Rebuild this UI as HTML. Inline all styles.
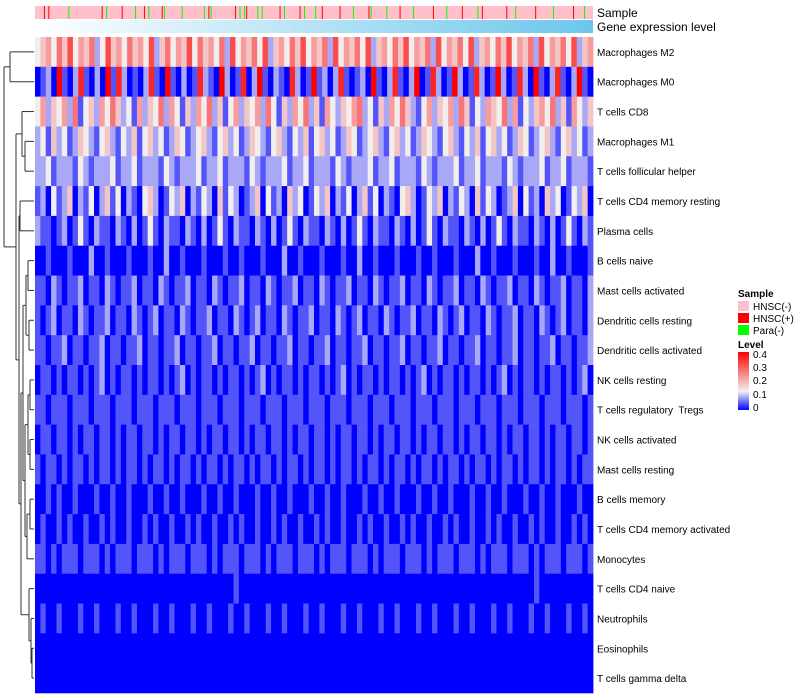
<!DOCTYPE html>
<html><head><meta charset="utf-8">
<style>
body{margin:0;background:#fff;width:800px;height:700px;overflow:hidden;font-family:"Liberation Sans",sans-serif;}
svg{display:block}
#rowLabels text{white-space:pre}
</style></head><body>
<svg id="chart" width="800" height="700" xmlns="http://www.w3.org/2000/svg">
<defs>
<linearGradient id="geneGrad" x1="0" x2="1" y1="0" y2="0"><stop offset="0" stop-color="#ffffff"/><stop offset="1" stop-color="#6cc6ec"/></linearGradient>
<linearGradient id="levelGrad" x1="0" x2="0" y1="1" y2="0"><stop offset="0" stop-color="#0000ff"/><stop offset="0.32" stop-color="#f2f2f2"/><stop offset="1" stop-color="#ff0000"/></linearGradient>
</defs>
<g id="dendro" stroke="#333" stroke-width="1" fill="none"></g>
<g id="cells"></g>
<g id="sampleBar"></g>
<rect x="35" y="20" width="558" height="13" fill="url(#geneGrad)"/>
<text x="597" y="17" font-size="12">Sample</text>
<text x="597" y="31" font-size="12">Gene expression level</text>
<g id="rowLabels" font-size="10" fill="#000"></g>
<g font-size="10">
<text x="738" y="297" font-weight="bold">Sample</text>
<rect x="738" y="301" width="11" height="10" fill="#ffc0cb"/>
<text x="753" y="310">HNSC(-)</text>
<rect x="738" y="313" width="11" height="10" fill="#ff0000"/>
<text x="753" y="322">HNSC(+)</text>
<rect x="738" y="325" width="11" height="10" fill="#00ff00"/>
<text x="753" y="334">Para(-)</text>
<text x="738" y="348" font-weight="bold">Level</text>
<rect x="738" y="352" width="11" height="58" fill="url(#levelGrad)"/>
<text x="753" y="358">0.4</text>
<text x="753" y="371">0.3</text>
<text x="753" y="384">0.2</text>
<text x="753" y="398">0.1</text>
<text x="753" y="411">0</text>
</g>
</svg>
<script>
const rowNames=["Macrophages M2","Macrophages M0","T cells CD8","Macrophages M1","T cells follicular helper","T cells CD4 memory resting","Plasma cells","B cells naive","Mast cells activated","Dendritic cells resting","Dendritic cells activated","NK cells resting","T cells regulatory  Tregs","NK cells activated","Mast cells resting","B cells memory","T cells CD4 memory activated","Monocytes","T cells CD4 naive","Neutrophils","Eosinophils","T cells gamma delta"];
// digit codes 0-9 per column; value = digit*0.045
const row01="3453647354623745364537246354736453627354637245364735462735463724536473546273546372453647354627354637245";
const row02="0120910281020918201028109102018210920180291021082019120281012091028102901820192018201920182091028102910";
const row03="35243526134253642315243625314253624135243526314253624153243562314253642135243526413254362513245362415324";
const row04="23142312432134213241342312431234213423124321342132413423124312342134231243213421324134231243123421342312";
const row05="22312221321222312231222132122231223122213212223122312221321222312231222132122231223122213212223122312221";
const row06="12031240213024130210342013240213204132012403120423013240213024130210342013240213204132012403120423013240";
const row07="21101201310211021020131021102102013102110210201310211021020131021102102013102110210201310211021020131021";
const row08="00100010002001000100010020010001000100100010002001000100010020010001000100100010002001000100010020010001";
const row09="11021011201102101120110210112011021011201102101120110210112011021011201102101120110210112011021011201102";
const row10="10120110210112011021012011021011201102101201102101120110210120110210112011021012011021011201102101201102";
const row11="11011201101120110112011011201101120110112011011201101120110112011011201101120110112011011201101120110112";
const row12="01101011010120101101011010120101101011010120101101011010120101101011010120101101011010120101101011010120";
const row13="11011101110111011101110111011101110111011101110111011101110111011101110111011101110111011101110111011101";
const row14="01101101011011010110110101101101011011010110110101101101011011010110110101101101011011010110110101101101";
const row15="10110101101011010110101101011010110101101011010110101101011010110101101011010110101101011010110101101011";
const row16="00101001000100100100010010010001001001000100100100010010010001001001000100100100010010010001001001000100";
const row17="01001010010010100100101001001010010010100100101001001010010010100100101001001010010010100100101001001010";
const row18="11010111011101011101110101110111010111011101011101110101110111010111011101011101110101110111010111011101";
const row19="00000000000000000000000000000000000001000000000000000000000000000000000000000000000000000000010000000000";
const row20="01001000100100010010001001000100100010010001001000100100010010001001000100100010010001001000100100010010";
const row21="00000000000000000000000000000000000000000000000000000000000000000000000000000000000000000000000000000000";
const row22="00000000000000000000000000000000000000000000000000000000000000000000000000000000000000000000000000000000";
const rowData=[row01,row02,row03,row04,row05,row06,row07,row08,row09,row10,row11,row12,row13,row14,row15,row16,row17,row18,row19,row20,row21,row22];
// n = HNSC(-), p = HNSC(+), g = Para(-)
const sampleCodes="nnnnpnpnnnnnnnngnnnnnnnnnnnnnnpngnnnnnnpnnnnngnnnpngnnnnnpgnnnnnnngnnnnnnnnngnpgnnnnnnnnnnpngngpnnnngngnnnnnnnpngnnnnnnpngnnnngnnpnnnnnnnpnnnnngnnnnnnpgnnnnnngnnnnnpnnnnngnnnnnnnnpnnnnngnnnnnnpnnnnnngnpnnnnnnnnnnpnnngnnnnnnnnpnnnnnnngnnnnnnnnpnnnngnnn";
const X0=35,X1=593,Y0=37,Y1=693;
const rowH=(Y1-Y0)/rowNames.length;
function yPos(i){return Y0+i*rowH;}
function xPos(j,n){return X0+(X1-X0)*j/n;}
function color(v){
  const mid=0.13,max=0.4;
  let r,g,b;
  if(v<=mid){const t=v/mid;r=Math.round(255*t*0.95);g=Math.round(242*t);b=Math.round(255-13*t);}
  else{const t=Math.min(1,(v-mid)/(max-mid));r=Math.round(242+13*t);g=Math.round(242*(1-t));b=Math.round(242*(1-t));}
  return `rgb(${r},${g},${b})`;
}
const NS="http://www.w3.org/2000/svg";
const cells=document.getElementById('cells');
rowData.forEach((s,i)=>{
  const n=s.length;
  for(let j=0;j<n;j++){
    const v=parseInt(s[j])*0.045;
    const r=document.createElementNS(NS,'rect');
    r.setAttribute('x',xPos(j,n));r.setAttribute('y',yPos(i));
    r.setAttribute('width',(X1-X0)/n+0.4);r.setAttribute('height',rowH+0.3);
    r.setAttribute('fill',color(v));
    
    
    cells.appendChild(r);
  }
});
const sb=document.getElementById('sampleBar');
const sc={n:'#ffc0cb',p:'#ff0000',g:'#00ff00'};
const bg=document.createElementNS(NS,'rect');
bg.setAttribute('x',X0);bg.setAttribute('y',6);bg.setAttribute('width',X1-X0);bg.setAttribute('height',13);bg.setAttribute('fill','#ffc0cb');


sb.appendChild(bg);
for(let j=0;j<sampleCodes.length;j++){
  const c=sampleCodes[j];if(c==='n')continue;
  const r=document.createElementNS(NS,'rect');
  r.setAttribute('x',xPos(j,sampleCodes.length));r.setAttribute('y',6);r.setAttribute('width',1);r.setAttribute('height',13);r.setAttribute('fill',sc[c]);
  
  
  sb.appendChild(r);
}
const rl=document.getElementById('rowLabels');
rowNames.forEach((nm,i)=>{
  const t=document.createElementNS(NS,'text');
  t.setAttribute('x',597);t.setAttribute('y',yPos(i)+rowH/2+4);t.textContent=nm;
  
  
  rl.appendChild(t);
});
const cy=i=>yPos(i)+rowH/2;
const dg=document.getElementById('dendro');
function seg(x1,y1,x2,y2){const l=document.createElementNS(NS,'path');l.setAttribute('d',`M${x1},${y1}L${x2},${y2}`);dg.appendChild(l);}
function join(ya,xa,yb,xb,x){seg(xa,ya,x,ya);seg(xb,yb,x,yb);seg(x,ya,x,yb);return [(ya+yb)/2,x];}
const L=34;
let a=join(cy(0),L,cy(1),L,10);
let b=join(cy(3),L,cy(4),L,25);
let c=join(cy(2),L,b[0],b[1],22);
let d=join(cy(5),L,cy(6),L,20);
let e=join(cy(7),L,cy(8),L,28);
let f=join(cy(9),L,cy(10),L,29);
let g=join(e[0],e[1],f[0],f[1],26);
let h=join(cy(11),L,cy(12),L,30);
let k=join(cy(13),L,cy(14),L,30);
let m=join(h[0],h[1],k[0],k[1],28);
let n1=join(cy(15),L,cy(16),L,30);
let o=join(n1[0],n1[1],cy(17),L,27);
let p=join(m[0],m[1],o[0],o[1],25);
let q=join(g[0],g[1],p[0],p[1],23);
let r1=join(cy(20),L,cy(21),L,32);
let s1=join(cy(19),L,r1[0],r1[1],31);
let t1=join(cy(18),L,s1[0],s1[1],29);
let u=join(q[0],q[1],t1[0],t1[1],21);
let v1=join(d[0],d[1],u[0],u[1],19);
let w=join(c[0],c[1],v1[0],v1[1],16);
join(a[0],a[1],w[0],w[1],4);
</script>
</body></html>
